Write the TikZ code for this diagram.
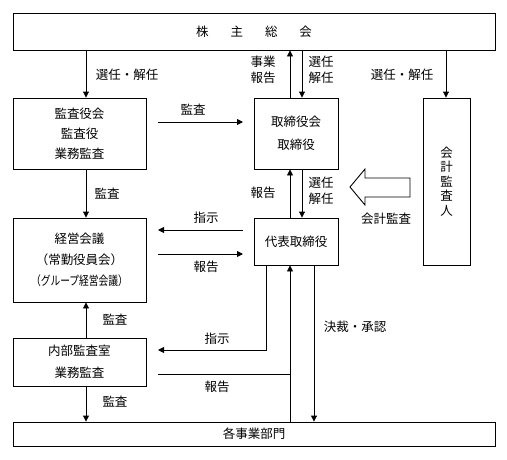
\documentclass[tikz,border=0pt]{standalone}
\usepackage{fontspec}
\setmainfont{Noto Sans CJK JP}
\usetikzlibrary{arrows.meta}
\begin{document}
\begin{tikzpicture}[x=1pt,y=-1pt,
  box/.style={draw,line width=0.9pt,inner sep=0pt,align=center,font=\fontsize{12.5}{20}\selectfont},
  lbl/.style={inner sep=0pt,align=center,font=\fontsize{12.5}{16}\selectfont},
  ln/.style={line width=0.9pt},
  arr/.style={line width=0.9pt,-{Triangle[length=6pt,width=6pt]}}]
\useasboundingbox (0,0) rectangle (507,459);
% boxes
\node[box,minimum width=482pt,minimum height=37pt] (top) at (254,31.5) {株\hspace{22pt}主\hspace{22pt}総\hspace{22pt}会};
\node[box,minimum width=482pt,minimum height=24pt] (bottom) at (254,434) {各事業部門};
\node[box,minimum width=133pt,minimum height=71pt] (kansa) at (79.5,133.5) {監査役会\\監査役\\業務監査};
\node[box,minimum width=84pt,minimum height=71pt,font=\fontsize{12.5}{23}\selectfont] (tori) at (296,133.5) {取締役会\\取締役};
\node[box,minimum width=47pt,minimum height=167pt,font=\fontsize{12.5}{14.5}\selectfont] (kaikei) at (446.5,181.5) {会\\計\\監\\査\\人};
\node[box,minimum width=133pt,minimum height=84pt,font=\fontsize{12.5}{21}\selectfont] (keiei) at (79.5,260) {経営会議\\（常勤役員会）\\\scalebox{0.78}[1]{（グループ経営会議）}};
\node[box,minimum width=84pt,minimum height=47pt] (daihyo) at (296,241.5) {代表取締役};
\node[box,minimum width=133pt,minimum height=48pt,font=\fontsize{12.5}{22}\selectfont] (naibu) at (79.5,362) {内部監査室\\業務監査};
% column coordinates
\coordinate (cL) at (86,0);
\coordinate (cA) at (290,0);
\coordinate (cB) at (302,0);
\coordinate (cR) at (446,0);
\coordinate (c1) at (266,0);
\coordinate (c3) at (314,0);
% free ends
\coordinate (h1a) at (158,122); \coordinate (h1b) at (243,122);
\coordinate (h2a) at (243,230); \coordinate (h2b) at (158,230);
\coordinate (h3a) at (158,254); \coordinate (h3b) at (243,254);
\coordinate (h4) at (158,350);
\coordinate (h5) at (158,374);
% connectors
\draw[arr] (cL |- top.south) -- (cL |- kansa.north);
\draw[arr] (cA |- tori.north) -- (cA |- top.south);
\draw[arr] (cB |- top.south) -- (cB |- tori.north);
\draw[arr] (cR |- top.south) -- (cR |- kaikei.north);
\draw[arr] (h1a) -- (h1b);
\draw[arr] (cL |- kansa.south) -- (cL |- keiei.north);
\draw[arr] (cA |- daihyo.north) -- (cA |- tori.south);
\draw[arr] (cB |- tori.south) -- (cB |- daihyo.north);
\draw[arr] (h2a) -- (h2b);
\draw[arr] (h3a) -- (h3b);
\draw[arr] (cL |- naibu.north) -- (cL |- keiei.south);
\draw[arr] (cL |- naibu.south) -- (cL |- bottom.north);
\draw[arr] (c1 |- daihyo.south) -- (c1 |- h4) -- (h4);
\draw[arr] (cA |- bottom.north) -- (cA |- daihyo.south);
\draw[ln] (h5) -- (cA |- h5);
\draw[arr] (c3 |- daihyo.south) -- (c3 |- bottom.north);
% hollow arrow
\draw[line width=0.9pt,line join=miter] (410,178) -- (365,178) -- (365,169) -- (350,187) -- (365,205) -- (365,197) -- (410,197) -- cycle;
% labels
\node[lbl] (l1) at (127,75) {選任・解任};
\node[lbl] (l2) at (263,70) {事業\\報告};
\node[lbl] (l3) at (321,70) {選任\\解任};
\node[lbl] (l4) at (402,75) {選任・解任};
\node[lbl] (l5) at (193,110) {監査};
\node[lbl] (l6) at (107,194) {監査};
\node[lbl] (l7) at (263,193) {報告};
\node[lbl] (l8) at (321,191) {選任\\解任};
\node[lbl] (l9) at (386,219) {会計監査};
\node[lbl] (l10) at (206,218) {指示};
\node[lbl] (l11) at (206,267) {報告};
\node[lbl] (l12) at (115,320) {監査};
\node[lbl] (l13) at (217,339) {指示};
\node[lbl] (l14) at (217,387) {報告};
\node[lbl] (l15) at (115,402) {監査};
\node[lbl] (l16) at (355,327) {決裁・承認};
\end{tikzpicture}
\end{document}
